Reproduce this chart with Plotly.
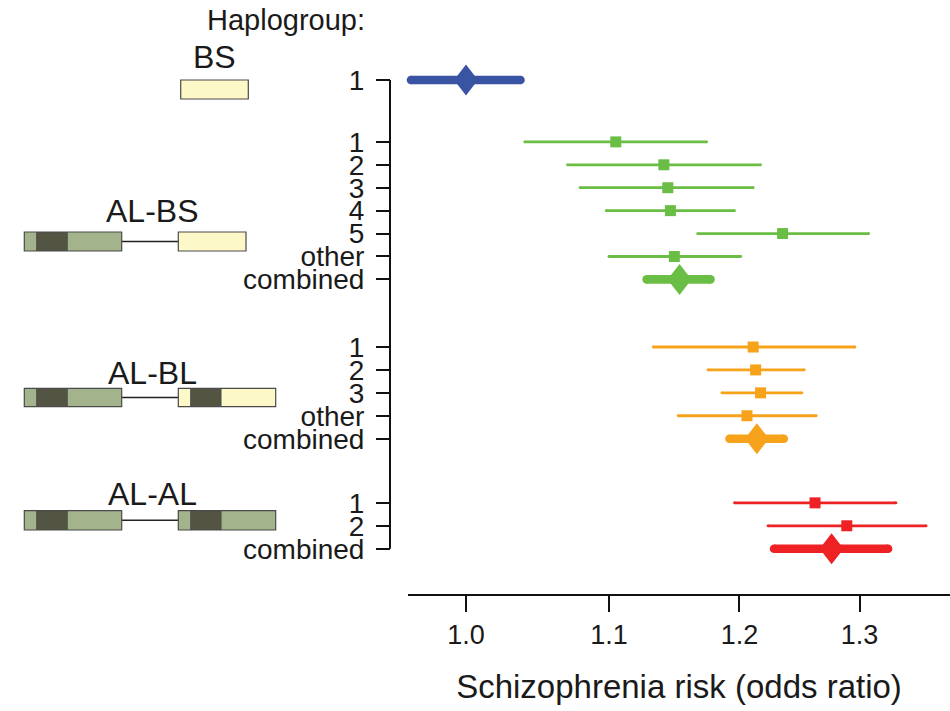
import plotly.graph_objects as go

W, H = 950, 711

# ---- data: odds ratios with 95% CI per haplogroup ----
bs_labels = ["1"]
bs_or = [1.000]
bs_lo = [0.964]
bs_hi = [1.037]

albs_labels = ["1", "2", "3", "4", "5", "other", "combined"]
albs_or = [1.105, 1.141, 1.144, 1.146, 1.235, 1.149, 1.153]
albs_lo = [1.040, 1.070, 1.079, 1.098, 1.167, 1.100, 1.128]
albs_hi = [1.174, 1.217, 1.211, 1.196, 1.308, 1.201, 1.177]

albl_labels = ["1", "2", "3", "other", "combined"]
albl_or = [1.211, 1.213, 1.217, 1.206, 1.214]
albl_lo = [1.133, 1.175, 1.186, 1.152, 1.192]
albl_hi = [1.296, 1.253, 1.251, 1.263, 1.236]

alal_labels = ["1", "2", "combined"]
alal_or = [1.262, 1.289, 1.276]
alal_lo = [1.196, 1.223, 1.228]
alal_hi = [1.332, 1.359, 1.325]

x_ticks = [1.0, 1.1, 1.2, 1.3]
x_tick_text = ["1.0", "1.1", "1.2", "1.3"]

groups = [
    ("BS", bs_labels, bs_or, bs_lo, bs_hi, "#3A54A4"),
    ("AL-BS", albs_labels, albs_or, albs_lo, albs_hi, "#6BBE45"),
    ("AL-BL", albl_labels, albl_or, albl_lo, albl_hi, "#F7A21B"),
    ("AL-AL", alal_labels, alal_or, alal_lo, alal_hi, "#EE2225"),
]

FONT = "Liberation Sans, Arial, Helvetica, sans-serif"
INK = "#1a1a1a"

# ---- layout geometry ----
group_gaps = [0, 2.7, 2.95, 2.8]      # extra spacing before each group
x_dom_px = (408, 950)
rows_px = (80, 548.7)                  # first and last row, in pixels
pad_px = 30                            # room so pooled marks are not clipped
x_range = [-0.01679, 0.14013]          # log10 units

rows_y, rows_text = [], []
pos = -1.0
group_rows = []
for gi, (name, labels, orv, lo, hi, col) in enumerate(groups):
    pos += group_gaps[gi] if gi > 0 else 1.0
    ys = []
    for k, lab in enumerate(labels):
        if k > 0:
            pos += 1.0
        ys.append(pos)
        rows_y.append(pos)
        rows_text.append(lab)
    group_rows.append(ys)
y_max = rows_y[-1]

px_per_log = (x_dom_px[1] - x_dom_px[0]) / (x_range[1] - x_range[0])
px_per_row = (rows_px[1] - rows_px[0]) / y_max
pad_rows = pad_px / px_per_row

thin_w, thick_w = 2.8, 8.6
sq_size = 11
dia_half_w = 10 ** (12.0 / px_per_log)   # multiplicative half width on log axis
dia_half_h = 15.5 / px_per_row

fig = go.Figure()

for (name, labels, orv, lo, hi, col), ys in zip(groups, group_rows):
    for lab, o, l, h, y in zip(labels, orv, lo, hi, ys):
        pooled = (lab == "combined") or (name == "BS")
        w = thick_w if pooled else thin_w
        # CI segment (end markers give rounded caps)
        fig.add_trace(go.Scatter(
            x=[l, h], y=[y, y], mode="lines+markers",
            line=dict(color=col, width=w),
            marker=dict(color=col, size=w, symbol="circle", line=dict(width=0)),
            hoverinfo="skip", showlegend=False, cliponaxis=False))
        if pooled:
            fig.add_trace(go.Scatter(
                x=[o * dia_half_w, o, o / dia_half_w, o, o * dia_half_w],
                y=[y, y + dia_half_h, y, y - dia_half_h, y],
                mode="lines", fill="toself", fillcolor=col,
                line=dict(width=0, color=col),
                hoverinfo="skip", showlegend=False))
        else:
            fig.add_trace(go.Scatter(
                x=[o], y=[y], mode="markers",
                marker=dict(symbol="square", size=sq_size, color=col,
                            line=dict(width=0)),
                hoverinfo="skip", showlegend=False, cliponaxis=False))


def fx(p):
    return p / W


def fy(p):
    return 1 - p / H


# ---- gene structure diagrams on the left ----
LIGHT_G = "#A3B38C"
DARK_G = "#535442"
YELLOW = "#FCF8C8"
EDGE = "#4a4a4a"

shapes = []

# vertical axis spine, running from the first to the last row
shapes.append(dict(type="line", xref="paper", yref="y",
                   x0=fx(390), x1=fx(390), y0=rows_y[0], y1=rows_y[-1],
                   line=dict(width=2, color="#111"), layer="above"))


def block(x0, x1, y0, y1, color):
    shapes.append(dict(type="rect", xref="paper", yref="paper",
                       x0=fx(x0), x1=fx(x1), y0=fy(y1), y1=fy(y0),
                       fillcolor=color, line=dict(width=0), layer="above"))


def frame(x0, x1, y0, y1):
    shapes.append(dict(type="rect", xref="paper", yref="paper",
                       x0=fx(x0), x1=fx(x1), y0=fy(y1), y1=fy(y0),
                       fillcolor="rgba(0,0,0,0)",
                       line=dict(width=1.2, color=EDGE), layer="above"))


def vline(xx, y0, y1):
    shapes.append(dict(type="line", xref="paper", yref="paper",
                       x0=fx(xx), x1=fx(xx), y0=fy(y1), y1=fy(y0),
                       line=dict(width=1, color=EDGE), layer="above"))


def link(x0, x1, y):
    shapes.append(dict(type="line", xref="paper", yref="paper",
                       x0=fx(x0), x1=fx(x1), y0=fy(y), y1=fy(y),
                       line=dict(width=1.5, color="#222"), layer="above"))


def left_gene(y0, y1):
    block(24.3, 36.7, y0, y1, LIGHT_G)
    block(36.7, 67.3, y0, y1, DARK_G)
    block(67.3, 121.7, y0, y1, LIGHT_G)
    vline(36.7, y0, y1)
    vline(67.3, y0, y1)
    frame(24.3, 121.7, y0, y1)


def right_gene(y0, y1, base, long_form):
    if long_form:
        block(178.3, 190.7, y0, y1, base)
        block(190.7, 221.0, y0, y1, DARK_G)
        block(221.0, 275.7, y0, y1, base)
        vline(190.7, y0, y1)
        vline(221.0, y0, y1)
        frame(178.3, 275.7, y0, y1)
    else:
        block(178.3, 246.0, y0, y1, base)
        frame(178.3, 246.0, y0, y1)


# BS
block(180.7, 248.3, 80, 99, YELLOW)
frame(180.7, 248.3, 80, 99)
# AL-BS
link(121.7, 178.3, 241.5)
left_gene(232, 251)
right_gene(232, 251, YELLOW, False)
# AL-BL
link(121.7, 178.3, 397.5)
left_gene(388.3, 406.7)
right_gene(388.3, 406.7, YELLOW, True)
# AL-AL
link(121.7, 178.3, 520.3)
left_gene(510.7, 530)
right_gene(510.7, 530, LIGHT_G, True)

annotations = [
    dict(text="Haplogroup:", x=fx(286), y=fy(20), size=29),
    dict(text="BS", x=fx(214.2), y=fy(56.7), size=32),
    dict(text="AL-BS", x=fx(152.2), y=fy(210.8), size=32),
    dict(text="AL-BL", x=fx(152.2), y=fy(372.5), size=32),
    dict(text="AL-AL", x=fx(152.2), y=fy(494), size=32),
]
ann = [dict(text=a["text"], x=a["x"], y=a["y"], xref="paper", yref="paper",
            xanchor="center", yanchor="middle", showarrow=False,
            font=dict(family=FONT, size=a["size"], color=INK))
       for a in annotations]

fig.update_layout(
    width=W, height=H, template="none",
    margin=dict(l=0, r=0, t=0, b=0, pad=0),
    paper_bgcolor="white", plot_bgcolor="white",
    showlegend=False, shapes=shapes, annotations=ann,
    xaxis=dict(
        type="log", range=x_range, domain=[x_dom_px[0] / W, 1],
        anchor="free", position=1 - 595 / H,
        showgrid=False, zeroline=False, showline=True,
        linecolor="#111", linewidth=2,
        ticks="outside", ticklen=16, tickwidth=2, tickcolor="#111",
        tickvals=x_ticks, ticktext=x_tick_text,
        tickfont=dict(family=FONT, size=27, color=INK),
        ticklabelstandoff=0,
        title=dict(text="Schizophrenia risk (odds ratio)",
                   font=dict(family=FONT, size=33, color=INK), standoff=24),
        automargin=False, fixedrange=True),
    yaxis=dict(
        range=[y_max + pad_rows, -pad_rows],
        domain=[1 - (rows_px[1] + pad_px) / H, 1 - (rows_px[0] - pad_px) / H],
        anchor="free", position=390 / W,
        showgrid=False, zeroline=False, showline=False,
        ticks="outside", ticklen=14, tickwidth=2, tickcolor="#111",
        tickvals=rows_y, ticktext=rows_text,
        tickfont=dict(family=FONT, size=28, color=INK),
        ticklabelstandoff=6,
        automargin=False, fixedrange=True),
)

fig.write_html("out.html")
